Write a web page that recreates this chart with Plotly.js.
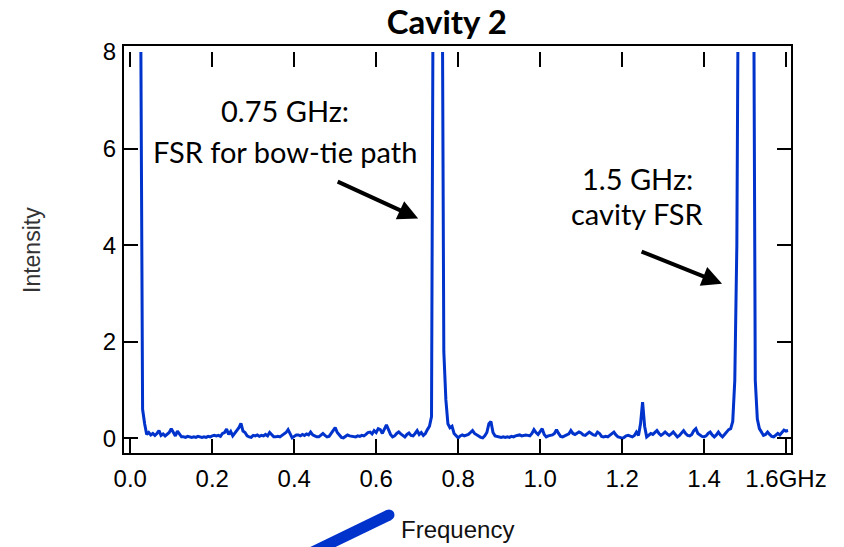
<!DOCTYPE html>
<html>
<head>
<meta charset="utf-8">
<script src="https://cdn.plot.ly/plotly-3.0.1.min.js"></script>
<style>html,body{margin:0;padding:0;background:#fff;}#chart{width:844px;height:547px;}</style>
</head>
<body>
<div id="chart"></div>
<script>
// Frequency grid (GHz): uniform sampling of the spectrum
const freqStart = 0.025;
const freqStep = 0.005;

// Intensity, rows of 10 samples (0.05 GHz per row)
const intensity = [
  9.5, 0.6, 0.3, 0.08, 0.12, 0.07, 0.1, 0.06, 0.1, 0.16,      // 0.025-0.070
  0.06, 0.09, 0.05, 0.08, 0.12, 0.2, 0.12, 0.05, 0.15, 0.08,  // 0.075-0.120
  0.03, 0.03, 0.02, 0.04, 0.03, 0.02, 0.03, 0.02, 0.04, 0.03, // 0.125-0.170
  0.02, 0.03, 0.02, 0.04, 0.03, 0.05, 0.06, 0.05, 0.06, 0.04, // 0.175-0.220
  0.1, 0.12, 0.19, 0.08, 0.14, 0.05, 0.1, 0.15, 0.22, 0.31,   // 0.225-0.270
  0.15, 0.12, 0.05, 0.03, 0.02, 0.06, 0.05, 0.07, 0.04, 0.06, // 0.275-0.320
  0.05, 0.08, 0.05, 0.12, 0.08, 0.03, 0.03, 0.04, 0.03, 0.06, // 0.325-0.370
  0.08, 0.12, 0.18, 0.08, 0.01, 0.04, 0.07, 0.07, 0.05, 0.08, // 0.375-0.420
  0.06, 0.09, 0.07, 0.13, 0.07, 0.05, 0.03, 0.03, 0.07, 0.1,  // 0.425-0.470
  0.06, 0.03, 0.04, 0.1, 0.16, 0.22, 0.12, 0.06, 0.02, 0.01,  // 0.475-0.520
  0.05, 0.07, 0.05, 0.04, 0.03, 0.03, 0.05, 0.04, 0.06, 0.05, // 0.525-0.570
  0.08, 0.12, 0.13, 0.09, 0.16, 0.12, 0.2, 0.18, 0.1, 0.18,   // 0.575-0.620
  0.28, 0.18, 0.08, 0.03, 0.05, 0.1, 0.13, 0.09, 0.05, 0.03,  // 0.625-0.670
  0.08, 0.11, 0.06, 0.05, 0.1, 0.16, 0.08, 0.12, 0.06, 0.1,   // 0.675-0.720
  0.18, 0.25, 0.45, 12, 14, 15, 14, 12, 1.8, 0.8,             // 0.725-0.770
  0.3, 0.22, 0.25, 0.1, 0.05, 0.01, 0.05, 0.07, 0.05, 0.06,   // 0.775-0.820
  0.08, 0.12, 0.16, 0.1, 0.07, 0.05, 0.02, 0.01, 0.05, 0.12,  // 0.825-0.870
  0.3, 0.35, 0.12, 0.05, 0.04, 0.03, 0.02, 0.03, 0.02, 0.03,  // 0.875-0.920
  0.02, 0.04, 0.03, 0.05, 0.06, 0.07, 0.05, 0.06, 0.07, 0.06, // 0.925-0.970
  0.05, 0.1, 0.18, 0.12, 0.08, 0.14, 0.2, 0.08, 0.03, 0.05,   // 0.975-1.020
  0.06, 0.07, 0.1, 0.18, 0.1, 0.04, 0.03, 0.05, 0.06, 0.09,   // 1.025-1.070
  0.16, 0.1, 0.08, 0.1, 0.13, 0.11, 0.07, 0.06, 0.09, 0.13,   // 1.075-1.120
  0.1, 0.07, 0.06, 0.13, 0.1, 0.04, 0.03, 0.04, 0.03, 0.06,   // 1.125-1.170
  0.1, 0.13, 0.07, 0.03, 0.02, 0.0, 0.02, 0.05, 0.06, 0.04,   // 1.175-1.220
  0.03, 0.06, 0.13, 0.06, 0.3, 0.75, 0.25, 0.03, 0.06, 0.1,   // 1.225-1.270
  0.08, 0.12, 0.16, 0.1, 0.06, 0.09, 0.13, 0.09, 0.06, 0.09,  // 1.275-1.320
  0.13, 0.08, 0.03, 0.06, 0.1, 0.16, 0.1, 0.06, 0.05, 0.08,   // 1.325-1.370
  0.16, 0.2, 0.1, 0.06, 0.04, 0.03, 0.05, 0.1, 0.13, 0.07,    // 1.375-1.420
  0.03, 0.07, 0.13, 0.07, 0.03, 0.08, 0.13, 0.18, 0.2, 0.35,  // 1.425-1.470
  1.2, 4.0, 12, 14, 15, 15, 15, 14, 13, 12,                   // 1.475-1.520
  1.2, 0.4, 0.2, 0.12, 0.06, 0.08, 0.13, 0.08, 0.04, 0.03,    // 1.525-1.570
  0.06, 0.1, 0.07, 0.12, 0.17, 0.15, 0.16                     // 1.575-1.605
];
const frequency = intensity.map((_, i) => +(freqStart + i * freqStep).toFixed(3));

// Axis ticks
const xTickVals = [0, 0.2, 0.4, 0.6, 0.8, 1.0, 1.2, 1.4, 1.6];
const xTickText = ['0.0', '0.2', '0.4', '0.6', '0.8', '1.0', '1.2', '1.4', '1.6GHz'];
const yTickVals = [0, 2, 4, 6, 8];
const yTickText = ['0', '2', '4', '6', '8'];

// Annotation texts
const chartTitle = 'Cavity 2';
const yTitle = 'Intensity';
const xTitle = 'Frequency';
const note1 = ['0.75 GHz:', 'FSR for bow-tie path'];
const note2 = ['1.5 GHz:', 'cavity FSR'];

const lineBlue = '#0033cc';
const tickFont = {family: 'Liberation Sans, Arial, sans-serif', size: 24, color: '#000'};
const noteFont = {family: 'Lato, Calibri, sans-serif', size: 29, color: '#000'};

const trace = {
  x: frequency, y: intensity, type: 'scatter', mode: 'lines',
  line: {color: lineBlue, width: 3}, hoverinfo: 'skip', showlegend: false
};

const axisCommon = {
  showgrid: false, zeroline: false, showline: false,
  ticks: 'inside', ticklen: 15, tickwidth: 2, tickcolor: '#000',
  mirror: 'ticks', tickfont: tickFont, tickmode: 'array', fixedrange: true
};

const layout = {
  width: 844, height: 547,
  margin: {l: 123, r: 52, t: 52, b: 93},
  paper_bgcolor: '#fff', plot_bgcolor: '#fff',
  title: {
    text: '<b>' + chartTitle + '</b>',
    font: {family: 'Lato, Calibri, sans-serif', size: 33, color: '#000'},
    xref: 'paper', x: 0.484, xanchor: 'center',
    yref: 'container', y: 1 - 22 / 547, yanchor: 'middle'
  },
  xaxis: Object.assign({}, axisCommon, {
    range: [-0.0178, 1.6146], tickvals: xTickVals, ticktext: xTickText,
    ticklabelstandoff: 8
  }),
  yaxis: Object.assign({}, axisCommon, {
    range: [-0.325, 8.0], tickvals: yTickVals, ticktext: yTickText,
    ticklabelstandoff: 6
  }),
  shapes: [
    {type: 'rect', xref: 'paper', yref: 'paper', x0: 0, x1: 1, y0: 0, y1: 1 + 7 / 402,
     line: {color: '#000', width: 2}, fillcolor: 'rgba(0,0,0,0)', layer: 'above'},
    {type: 'line', xref: 'paper', yref: 'paper', x0: 0.2586, y0: -0.2637, x1: 0.3976, y1: -0.1517,
     line: {color: lineBlue, width: 11}},
    {type: 'circle', xref: 'paper', yref: 'paper', xsizemode: 'pixel', ysizemode: 'pixel',
     xanchor: 0.3976, yanchor: -0.1517, x0: -5.5, x1: 5.5, y0: -5.5, y1: 5.5,
     fillcolor: lineBlue, line: {width: 0}}
  ],
  annotations: [
    {text: yTitle, xref: 'paper', yref: 'paper', x: -0.136, y: 0.5075, textangle: -90,
     showarrow: false, xanchor: 'center', yanchor: 'middle',
     font: {family: 'Liberation Sans, Arial, sans-serif', size: 23, color: '#333'}},
    {text: xTitle, xref: 'paper', yref: 'paper', x: 0.5, y: -0.189,
     showarrow: false, xanchor: 'center', yanchor: 'middle',
     font: {family: 'Liberation Sans, Arial, sans-serif', size: 24, color: '#111'}},
    {text: note1[0], xref: 'x', yref: 'y', x: 0.378, y: 6.78, showarrow: false, font: noteFont},
    {text: note1[1], xref: 'x', yref: 'y', x: 0.378, y: 5.93, showarrow: false, font: noteFont},
    {text: note2[0], xref: 'x', yref: 'y', x: 1.2366, y: 5.38, showarrow: false, font: noteFont},
    {text: note2[1], xref: 'x', yref: 'y', x: 1.2366, y: 4.66, showarrow: false, font: noteFont},
    {text: '', xref: 'x', yref: 'y', axref: 'x', ayref: 'y',
     x: 0.7024, y: 4.55, ax: 0.5024, ay: 5.33,
     showarrow: true, arrowhead: 2, arrowsize: 1, arrowwidth: 4, arrowcolor: '#000'},
    {text: '', xref: 'x', yref: 'y', axref: 'x', ayref: 'y',
     x: 1.4439, y: 3.2, ax: 1.2439, ay: 3.88,
     showarrow: true, arrowhead: 2, arrowsize: 1, arrowwidth: 4, arrowcolor: '#000'}
  ]
};

Plotly.newPlot('chart', [trace], layout, {staticPlot: true, displayModeBar: false});
</script>
</body>
</html>
